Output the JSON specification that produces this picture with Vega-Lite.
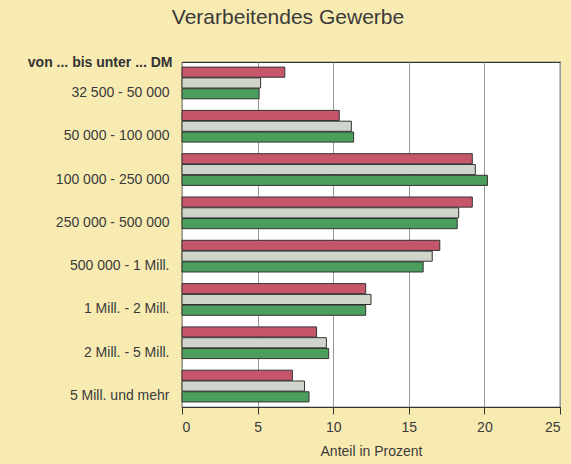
{
  "$schema": "https://vega.github.io/schema/vega-lite/v6.json",
  "width": 378,
  "height": 345,
  "autosize": {"type": "none"},
  "padding": {"left": 182, "top": 62, "right": 11, "bottom": 57},
  "background": "#f8ebb2",
  "title": {
    "text": "Verarbeitendes Gewerbe",
    "fontSize": 21,
    "fontWeight": "normal",
    "font": "Liberation Sans",
    "color": "#3a3a3a",
    "anchor": "middle",
    "frame": "group",
    "dx": -83,
    "offset": 27
  },
  "config": {
    "view": {"stroke": "#333333", "strokeWidth": 1.2, "fill": "white"},
    "font": "Liberation Sans"
  },
  "data": {
    "values": [
      {"klasse": "32 500 - 50 000", "reihe": "1", "anteil": 6.8},
      {"klasse": "32 500 - 50 000", "reihe": "2", "anteil": 5.2},
      {"klasse": "32 500 - 50 000", "reihe": "3", "anteil": 5.1},
      {"klasse": "50 000 - 100 000", "reihe": "1", "anteil": 10.4},
      {"klasse": "50 000 - 100 000", "reihe": "2", "anteil": 11.2},
      {"klasse": "50 000 - 100 000", "reihe": "3", "anteil": 11.35},
      {"klasse": "100 000 - 250 000", "reihe": "1", "anteil": 19.2},
      {"klasse": "100 000 - 250 000", "reihe": "2", "anteil": 19.4},
      {"klasse": "100 000 - 250 000", "reihe": "3", "anteil": 20.2},
      {"klasse": "250 000 - 500 000", "reihe": "1", "anteil": 19.2},
      {"klasse": "250 000 - 500 000", "reihe": "2", "anteil": 18.3},
      {"klasse": "250 000 - 500 000", "reihe": "3", "anteil": 18.2},
      {"klasse": "500 000 - 1 Mill.", "reihe": "1", "anteil": 17.05},
      {"klasse": "500 000 - 1 Mill.", "reihe": "2", "anteil": 16.55},
      {"klasse": "500 000 - 1 Mill.", "reihe": "3", "anteil": 15.95},
      {"klasse": "1 Mill. - 2 Mill.", "reihe": "1", "anteil": 12.15},
      {"klasse": "1 Mill. - 2 Mill.", "reihe": "2", "anteil": 12.5},
      {"klasse": "1 Mill. - 2 Mill.", "reihe": "3", "anteil": 12.15},
      {"klasse": "2 Mill. - 5 Mill.", "reihe": "1", "anteil": 8.9},
      {"klasse": "2 Mill. - 5 Mill.", "reihe": "2", "anteil": 9.55},
      {"klasse": "2 Mill. - 5 Mill.", "reihe": "3", "anteil": 9.7},
      {"klasse": "5 Mill. und mehr", "reihe": "1", "anteil": 7.3},
      {"klasse": "5 Mill. und mehr", "reihe": "2", "anteil": 8.1},
      {"klasse": "5 Mill. und mehr", "reihe": "3", "anteil": 8.4}
    ]
  },
  "mark": {"type": "bar", "stroke": "#333333", "strokeWidth": 1},
  "encoding": {
    "y": {
      "field": "klasse",
      "type": "nominal",
      "sort": null,
      "scale": {"paddingInner": 0.268, "paddingOuter": 0.118},
      "axis": {
        "title": "von ... bis unter ... DM",
        "titleAngle": 0,
        "titleAlign": "right",
        "titleBaseline": "middle",
        "titleX": -10,
        "titleY": 0,
        "titleFontSize": 14,
        "titleFontWeight": "bold",
        "titleColor": "#333333",
        "ticks": false,
        "domain": false,
        "labelPadding": 13,
        "labelOffset": 10,
        "labelFontSize": 14,
        "labelColor": "#3a3a3a"
      }
    },
    "yOffset": {
      "field": "reihe",
      "type": "nominal",
      "sort": ["1", "2", "3"],
      "scale": {"paddingInner": 0.06}
    },
    "x": {
      "field": "anteil",
      "type": "quantitative",
      "scale": {"domain": [0, 25], "nice": false},
      "axis": {
        "title": "Anteil in Prozent",
        "values": [0, 5, 10, 15, 20, 25],
        "grid": true,
        "gridColor": "#999999",
        "gridWidth": 1,
        "domainColor": "#333333",
        "domainWidth": 1.2,
        "tickColor": "#333333",
        "tickSize": 7,
        "labelPadding": 6,
        "labelFontSize": 14,
        "labelColor": "#3a3a3a",
        "titleFontSize": 14,
        "titleFontWeight": "normal",
        "titleColor": "#3a3a3a",
        "titlePadding": 10
      }
    },
    "fill": {
      "field": "reihe",
      "type": "nominal",
      "scale": {"domain": ["1", "2", "3"], "range": ["#c6566a", "#cfd5cb", "#4c9e5d"]},
      "legend": null
    }
  }
}
